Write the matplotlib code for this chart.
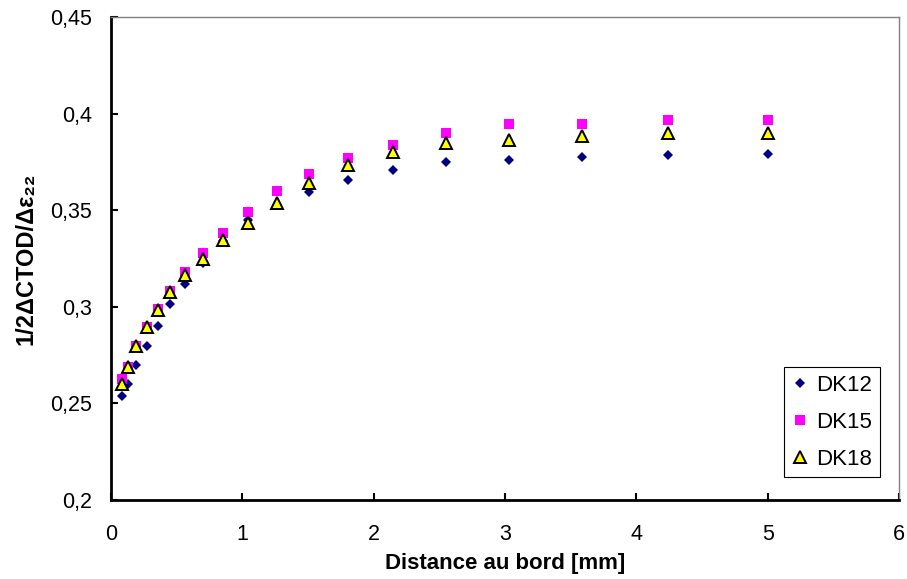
import matplotlib
matplotlib.use("Agg")
import matplotlib.pyplot as plt

plt.rcParams['font.family'] = ['Liberation Sans', 'DejaVu Sans']

distance = [0.08, 0.13, 0.19, 0.27, 0.36, 0.45, 0.56, 0.70, 0.855, 1.045,
            1.26, 1.51, 1.805, 2.15, 2.55, 3.03, 3.585, 4.24, 5.0]
dk12 = [0.254, 0.260, 0.270, 0.280, 0.290, 0.3015, 0.312, 0.323, 0.334, 0.345,
        0.353, 0.3595, 0.366, 0.371, 0.375, 0.376, 0.3775, 0.3785, 0.379]
dk15 = [0.2625, 0.269, 0.280, 0.2895, 0.299, 0.3085, 0.318, 0.328, 0.3385, 0.349,
        0.360, 0.369, 0.377, 0.3837, 0.390, 0.395, 0.395, 0.397, 0.397]
dk18 = [0.260, 0.2687, 0.280, 0.2896, 0.2985, 0.3076, 0.3167, 0.3247, 0.3346, 0.3433,
        0.354, 0.3643, 0.3733, 0.380, 0.3847, 0.3864, 0.3887, 0.390, 0.390]

x_ticks = [0, 1, 2, 3, 4, 5, 6]
y_ticks = [0.2, 0.25, 0.3, 0.35, 0.4, 0.45]
y_tick_labels = ['0,2', '0,25', '0,3', '0,35', '0,4', '0,45']

fig = plt.figure(figsize=(9.07, 5.79), dpi=100)
ax = fig.add_axes([0.1225, 0.1364, 0.8687, 0.8337])

ax.plot(distance, dk12, linestyle='none', marker='D', markersize=5.4,
        color='#000080', markeredgewidth=0, label='DK12', zorder=3)
ax.plot(distance, dk15, linestyle='none', marker='s', markersize=6.6,
        color='#FF00FF', markeredgewidth=0, label='DK15', zorder=4)
ax.plot(distance, dk18, linestyle='none', marker='^', markersize=9.2,
        markerfacecolor='#FFFF00', markeredgecolor='black', markeredgewidth=1.4,
        label='DK18', zorder=5)

ax.set_xlim(0, 6)
ax.set_ylim(0.2, 0.45)
ax.set_xticks(x_ticks)
ax.set_xticklabels([str(t) for t in x_ticks])
ax.set_yticks(y_ticks)
ax.set_yticklabels(y_tick_labels)

for s in ['left', 'bottom']:
    ax.spines[s].set_color('black')
    ax.spines[s].set_linewidth(2.0)
for s in ['top', 'right']:
    ax.spines[s].set_color('#808080')
    ax.spines[s].set_linewidth(1.0)

ax.tick_params(axis='x', direction='in', length=5, width=1.5, labelsize=15.5, pad=17)
ax.tick_params(axis='y', direction='in', length=5, width=1.5, labelsize=15.5, pad=14)

ax.set_xlabel('Distance au bord [mm]', fontsize=16, fontweight='bold', labelpad=6)
ax.set_ylabel('1/2ΔCTOD/Δε₂₂', fontsize=17, fontweight='bold', labelpad=9)

leg = ax.legend(loc='lower right', bbox_to_anchor=(0.976, 0.047), fontsize=16,
                frameon=True, fancybox=False, edgecolor='black', framealpha=1,
                handlelength=0.7, handletextpad=0.4, borderpad=0.35, labelspacing=0.72,
                borderaxespad=0)
leg.get_frame().set_linewidth(0.8)

fig.savefig('out.png', dpi=100)
